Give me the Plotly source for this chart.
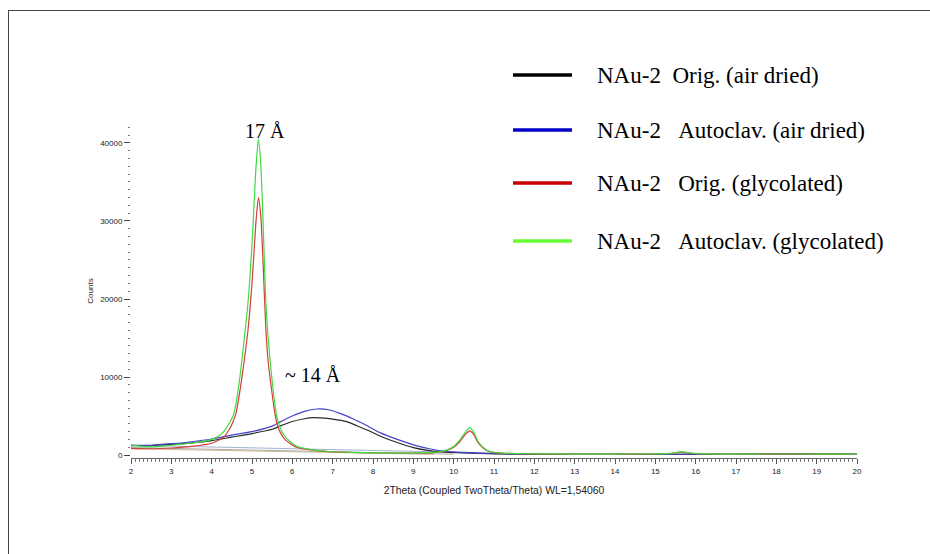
import plotly.graph_objects as go

# ---------------- data ----------------
orig_air_x = [2.0, 2.5, 3.0, 3.5, 4.0, 4.5, 5.0, 5.5, 5.7, 6.0, 6.3, 6.5, 6.7, 7.0, 7.35, 7.6, 7.9, 8.17, 8.6,
              9.0, 9.4, 9.8, 10.2, 10.6, 11.0, 12.0, 13.0, 14.0, 15.0, 16.0, 17.0, 18.0, 19.0, 20.0]
orig_air_y = [1200, 1200, 1350, 1550, 1850, 2300, 2750, 3300, 3720, 4300, 4650, 4800, 4750, 4600, 4270, 3750, 3100, 2440, 1600,
              950, 560, 360, 260, 190, 140, 90, 80, 80, 90, 90, 80, 120, 100, 90]

auto_air_x = [2.0, 2.5, 3.0, 3.5, 4.0, 4.5, 5.0, 5.5, 5.7, 6.0, 6.3, 6.6, 6.9, 7.2, 7.5, 7.8, 8.2, 8.6,
              9.0, 9.4, 9.8, 10.2, 10.65, 11.0, 11.5, 12.0, 13.0, 14.0, 15.0, 16.0, 17.0, 18.0, 19.0, 20.0]
auto_air_y = [1250, 1250, 1450, 1700, 2050, 2550, 3000, 3700, 4250, 5000, 5600, 5900, 5800, 5300, 4650, 3900, 2800, 2000,
              1300, 800, 480, 340, 250, 200, 130, 100, 80, 80, 90, 100, 90, 150, 120, 100]

orig_gly_x = [2.0, 2.5, 3.0, 3.5, 4.0, 4.3, 4.45, 4.53, 4.6, 4.7, 4.8, 4.9, 5.0, 5.05, 5.1, 5.16, 5.22, 5.28, 5.34,
              5.4, 5.49, 5.56, 5.62, 5.7, 5.8, 5.95, 6.1, 6.4, 6.9, 7.5, 8.0, 8.5, 9.0, 9.5, 9.8, 10.0, 10.15,
              10.3, 10.4, 10.5, 10.6, 10.75, 10.9, 11.2, 11.6, 12.0, 13.0, 14.0, 15.0, 15.4, 15.65, 15.9, 16.3,
              17.0, 18.0, 19.0, 20.0]
orig_gly_y = [850, 800, 900, 1100, 1500, 2300, 3400, 4270, 5300, 8200, 11800, 16000, 22000, 26000, 30000, 33000, 30500, 24000, 16500,
              12000, 8200, 5600, 4000, 2900, 2100, 1450, 1000, 680, 420, 320, 270, 240, 240, 310, 550, 1000, 1700,
              2700, 3100, 2600, 1600, 800, 420, 230, 170, 140, 110, 110, 140, 200, 350, 220, 140,
              110, 120, 110, 90]

auto_gly_x = [2.0, 2.2, 2.5, 2.8, 3.2, 3.6, 3.9, 4.1, 4.3, 4.45, 4.53, 4.6, 4.7, 4.8, 4.9, 5.0, 5.05, 5.1, 5.16,
              5.22, 5.28, 5.34, 5.4, 5.49, 5.56, 5.62, 5.7, 5.8, 5.95, 6.1, 6.4, 6.9, 7.5, 8.0, 8.5, 9.0, 9.5,
              9.8, 10.0, 10.15, 10.3, 10.4, 10.5, 10.6, 10.75, 10.9, 11.2, 11.6, 12.0, 13.0, 14.0, 15.0, 15.4,
              15.65, 15.9, 16.3, 17.0, 18.0, 19.0, 20.0]
auto_gly_y = [1300, 1150, 1050, 1150, 1350, 1600, 1850, 2200, 3000, 4200, 5000, 6500, 10000, 14500, 19500, 27000, 32000, 37000, 40500,
              37000, 29000, 20000, 15000, 10000, 6800, 4800, 3500, 2500, 1700, 1150, 750, 450, 330, 280, 250, 250, 330,
              600, 1100, 1900, 3000, 3500, 2900, 1800, 900, 450, 250, 180, 150, 120, 120, 150, 220,
              420, 250, 150, 120, 130, 120, 100]

# thin fitted background lines
bg_x = [[2.0, 12.5], [2.0, 10.0], [2.0, 9.5]]
bg_y = [[1250, 80], [950, 100], [800, 80]]
bg_colors = ["#9fb3cf", "#a8a8a8", "#cdb992"]

series_names = ["NAu-2  Orig. (air dried)", "NAu-2   Autoclav. (air dried)",
                "NAu-2   Orig. (glycolated)", "NAu-2   Autoclav. (glycolated)"]
series_x = [orig_air_x, auto_air_x, orig_gly_x, auto_gly_x]
series_y = [orig_air_y, auto_air_y, orig_gly_y, auto_gly_y]
line_colors = ["#2a2a2a", "#4444c4", "#d63c3c", "#3fdc3f"]
legend_colors = ["#000000", "#0000c8", "#c80000", "#66ff33"]

x_ticks = list(range(2, 21))
y_ticks = [0, 10000, 20000, 30000, 40000]
y_tick_text = ["0", "10000", "20000", "30000", "40000"]

peak_labels = ["17 Å", "~ 14 Å"]
peak_pos_x = [5.33, 6.51]
peak_pos_y = [41500, 10300]

# ---------------- figure ----------------
W, H = 930, 554
ML, MR, MT, MB = 131, 73, 124, 96
PW, PH = W - ML - MR, H - MT - MB


def px(xp):
    return (xp - ML) / PW


def py(yp):
    return (H - MB - yp) / PH


fig = go.Figure()

for bx, by, bc in zip(bg_x, bg_y, bg_colors):
    fig.add_trace(go.Scatter(x=bx, y=by, mode="lines", line=dict(color=bc, width=1),
                             showlegend=False, hoverinfo="skip"))

for sx, sy, name, col in zip(series_x, series_y, series_names, line_colors):
    fig.add_trace(go.Scatter(x=sx, y=sy, mode="lines", name=name,
                             line=dict(color=col, width=1.2, shape="spline", smoothing=0.6),
                             showlegend=False))

serif = "Liberation Serif, Times New Roman, serif"
sans = "Liberation Sans, Arial, sans-serif"

shapes = [
    # frame lines
    dict(type="line", xref="paper", yref="paper", x0=px(8), x1=px(931), y0=py(10.5), y1=py(10.5),
         line=dict(color="#444444", width=1)),
    dict(type="line", xref="paper", yref="paper", x0=px(8.5), x1=px(8.5), y0=py(10), y1=py(555),
         line=dict(color="#444444", width=1)),
]
annotations = []
legend_rows = [75, 130, 183, 241]
for name, col, ry in zip(series_names, legend_colors, legend_rows):
    shapes.append(dict(type="line", xref="paper", yref="paper", x0=px(513), x1=px(572), y0=py(ry), y1=py(ry),
                       line=dict(color=col, width=3.5)))
    annotations.append(dict(xref="paper", yref="paper", x=px(595), y=py(ry), text=name.replace(" ", "\u00a0"),
                            showarrow=False, xanchor="left", yanchor="middle",
                            font=dict(family=serif, size=23, color="#000000")))

for t, lx, ly in zip(peak_labels, peak_pos_x, peak_pos_y):
    annotations.append(dict(x=lx, y=ly, xref="x", yref="y", text=t, showarrow=False,
                            xanchor="center", yanchor="middle",
                            font=dict(family=serif, size=20, color="#000000")))

fig.update_layout(
    width=W, height=H,
    margin=dict(l=ML, r=MR, t=MT, b=MB, pad=0),
    paper_bgcolor="white", plot_bgcolor="white",
    shapes=shapes, annotations=annotations,
    showlegend=False,
    xaxis=dict(range=[2, 20], tickvals=x_ticks, ticks="outside", ticklen=5, tickcolor="#555555",
               showline=True, linecolor="#666666", linewidth=1, showgrid=False, zeroline=False,
               minor=dict(dtick=0.1, tick0=2, ticks="outside", ticklen=3, tickcolor="#777777"),
               tickfont=dict(family=sans, size=8, color="#222222"),
               title=dict(text="2Theta (Coupled TwoTheta/Theta) WL=1,54060",
                          font=dict(family=sans, size=10.4, color="#222222"), standoff=12)),
    yaxis=dict(range=[-385, 42435], tickvals=y_ticks, ticktext=y_tick_text, ticks="outside", ticklen=6,
               tickcolor="#444444", showline=False, showgrid=False, zeroline=False,
               minor=dict(dtick=1000, tick0=0, ticks="outside", ticklen=2, tickcolor="#777777"),
               tickfont=dict(family=sans, size=8, color="#222222"),
               title=dict(text="Counts", font=dict(family=sans, size=8, color="#222222"), standoff=5)),
)

fig.write_html("out.html")
